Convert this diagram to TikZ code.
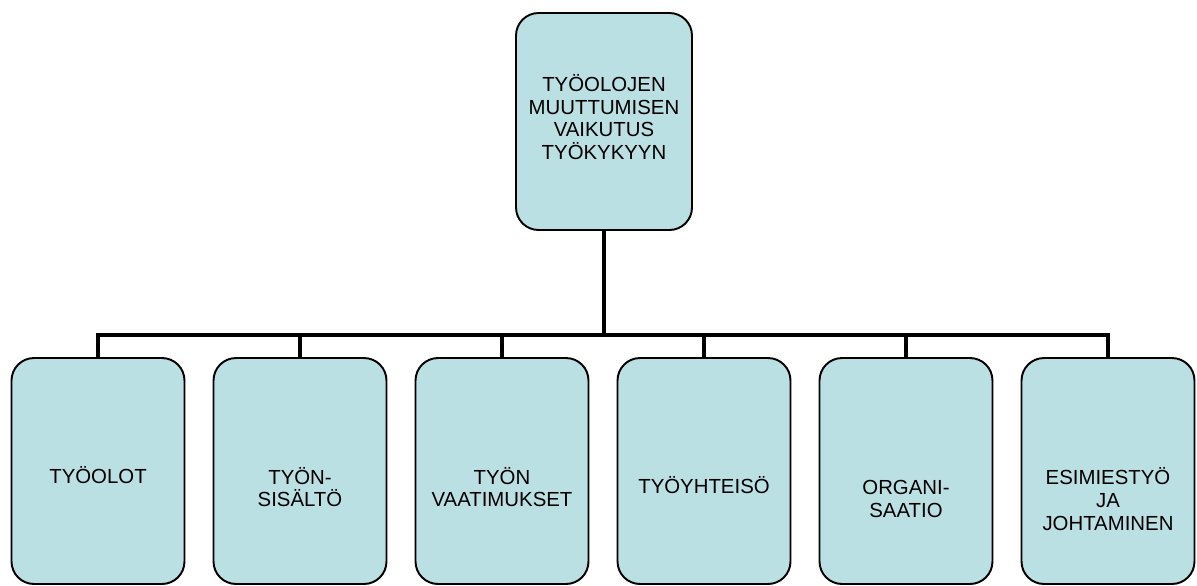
\documentclass[tikz,border=0pt]{standalone}
\usepackage{fontspec}
\setmainfont{Liberation Sans}
\definecolor{boxfill}{RGB}{187,224,227}
\tikzset{
  orgbox/.style={draw=black, line width=1.1pt, fill=boxfill, rounded corners=0.45cm, inner sep=0pt},
  boxtext/.style={align=center, inner sep=0pt, font=\fontsize{11.6}{13}\selectfont},
  link/.style={line width=2.8pt}
}
\begin{document}
\begin{tikzpicture}[x=0.02cm,y=-0.02cm]
\useasboundingbox (0,0) rectangle (1197,585);
% ylin laatikko
\node[orgbox, minimum width=3.52cm, minimum height=4.34cm] (top) at (604,121.5) {};
\node[boxtext] (toptext) at (604,117) {TYÖOLOJEN\\MUUTTUMISEN\\VAIKUTUS\\TYÖKYKYYN};
\coordinate (bar) at (604,335);
% alemmat laatikot
\foreach \b/\x in {b1/98,b2/300,b3/502,b4/704,b5/906,b6/1108}
    \node[orgbox, minimum width=3.46cm, minimum height=4.52cm] (\b) at (\x,471) {};
\begin{scope}[every node/.style={boxtext}]
    \node (t1) at (98,475) {TYÖOLOT};
    \node (t2) at (300,487) {TYÖN-\\SISÄLTÖ};
    \node (t3) at (502,487) {TYÖN\\VAATIMUKSET};
    \node (t4) at (704,485) {TYÖYHTEISÖ};
    \node (t5) at (906,499) {ORGANI-\\SAATIO};
    \node (t6) at (1108,499) {ESIMIESTYÖ\\JA\\JOHTAMINEN};
\end{scope}
\draw[link] (top.south) -- (bar);
\draw[link] (b1.north) -- (b1.north |- bar) -- (b6.north |- bar) -- (b6.north);
\foreach \b in {b2,b3,b4,b5} \draw[link] (\b.north) -- (\b.north |- bar);
\end{tikzpicture}
\end{document}
